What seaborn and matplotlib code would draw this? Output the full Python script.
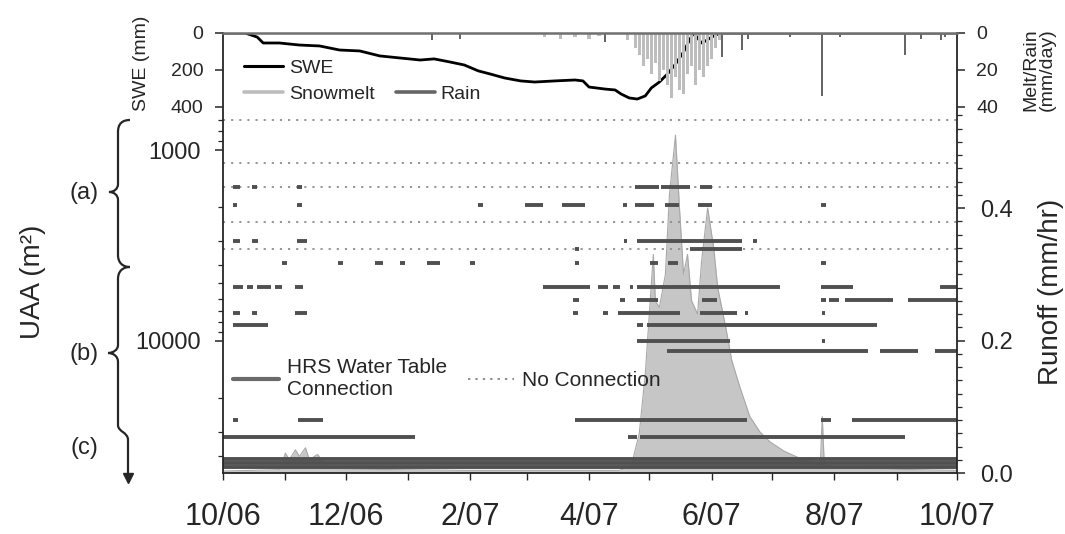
import datetime
import numpy as np
import matplotlib
matplotlib.use("Agg")
import matplotlib.pyplot as plt
import matplotlib.dates as mdates
from matplotlib.ticker import FixedLocator, FuncFormatter, NullFormatter
from matplotlib.path import Path
from matplotlib.patches import PathPatch
from matplotlib.lines import Line2D
import seaborn as sns

sns.set_theme(style="ticks")
plt.rcParams["font.family"] = ["Liberation Sans", "DejaVu Sans"]

# ---------------- data (days counted from 1 Oct 2006) ----------------
swe_day = [0, 11, 14, 17, 20, 28, 38, 48, 58, 68, 78, 88, 98, 105, 113, 120, 127,
           133, 140, 148, 155, 165, 175, 179, 182, 190, 195, 198, 202, 206, 210,
           213, 217, 221, 225, 229, 232, 234, 236, 238, 240, 243, 245, 247, 365]
swe_mm = [0, 0, 11, 22, 54, 54, 65, 70, 92, 97, 124, 135, 146, 140, 157, 173, 205,
          222, 243, 259, 265, 259, 254, 259, 292, 303, 308, 330, 351, 357, 340,
          297, 265, 222, 168, 103, 38, 0, 27, 54, 43, 22, 11, 0, 0]

melt_day = [160, 168, 175, 182, 187, 201, 205, 207, 209, 211, 213, 215, 217, 219,
            221, 223, 225, 227, 229, 231, 233, 235, 237, 239, 241, 243, 245, 247]
melt_mm = [2, 3, 2, 3, 1.5, 4, 8, 12, 18, 14, 22, 16, 26, 20,
           28, 35, 24, 31, 33, 22, 18, 28, 20, 24, 18, 14, 8, 4]

rain_day = [104, 118, 190, 248, 258, 261, 282, 298, 307, 339, 347, 357, 359]
rain_mm = [4, 3, 5, 13, 9, 3, 2, 34, 2, 12, 3, 4, 2]

runoff_day = [0, 28, 30, 31, 33, 36, 38, 41, 43, 47, 51, 58, 120, 197, 203, 207,
              210, 212, 214, 215, 217, 220, 222, 225, 227, 229, 231, 233, 236, 238,
              241, 244, 246, 250, 253, 257, 262, 267, 272, 279, 287, 294, 297, 298,
              299, 307, 327, 365]
runoff_mmhr = [0.003, 0.005, 0.02, 0.03, 0.02, 0.035, 0.025, 0.038, 0.02, 0.028,
               0.012, 0.006, 0.004, 0.004, 0.01, 0.06, 0.15, 0.24, 0.33, 0.26, 0.25,
               0.30, 0.42, 0.51, 0.40, 0.30, 0.33, 0.26, 0.24, 0.32, 0.40, 0.34,
               0.28, 0.22, 0.17, 0.13, 0.085, 0.062, 0.047, 0.033, 0.022, 0.015,
               0.012, 0.085, 0.012, 0.009, 0.006, 0.004]

# wells: upslope accumulated area (m2), logged with no connection, connection periods
well_uaa = [700, 1170, 1560, 1940, 2380, 3000, 3300, 3900, 5200, 6100, 7130,
            8240, 10000, 11280, 25900, 31800, 41500, 43600, 45700]
well_logged = [True, True, True, False, True, False, True, False, False, False,
               False, False, False, False, False, False, False, False, False]
well_periods = [
    [],
    [],
    [(5, 8.5), (14.4, 16.9), (36.8, 39.3), (205, 217), (218, 232), (237, 243)],
    [(5, 7), (36.8, 39.3), (127, 129.5), (150, 159), (168.5, 180), (199, 201),
     (205, 214.5), (220, 227), (236, 243), (297.3, 299.8)],
    [],
    [(5, 8.5), (14.4, 17.4), (36.8, 41.8), (199.4, 200.9), (206, 258), (263.6, 265.5)],
    [(175, 177), (232, 258)],
    [(29.3, 31.8), (57.2, 59.7), (75.6, 79.6), (88, 90.5), (101.4, 107.9),
     (122.8, 125.3), (174.9, 176.9), (212.3, 216.3), (221.3, 226.3), (297.3, 299.8)],
    [(5, 10), (12, 15), (17, 24), (26, 29.5), (36, 40), (159.1, 182.5),
     (186.5, 191.5), (194, 197.4), (202.4, 203.9), (205.9, 277), (297.3, 313.3),
     (356.5, 365)],
    [(174, 177), (197.4, 199.9), (205.9, 216.3), (238.2, 245.6), (297.3, 299.8),
     (301.3, 306.3), (309.3, 333.2), (340.6, 365)],
    [(5, 8.5), (14.4, 16.9), (35.8, 41.8), (174, 176.5), (189, 191.5),
     (196.4, 227.3), (237.2, 255.6), (259.6, 261.1), (297.8, 299.3)],
    [(5, 22.4), (205.9, 208.9), (210.8, 325.2)],
    [(205.9, 252.1), (297.8, 299.3)],
    [(220.8, 320.7), (326.7, 345.6), (354.1, 365)],
    [(5, 7.5), (37.3, 49.7), (175, 260.6), (297.3, 302.3), (312.8, 365)],
    [(0, 95.5), (201.4, 205.9), (207.4, 339.1)],
    [(0, 365)],
    [(0, 365)],
    [(0, 365)],
]

uaa_major = [1000, 10000]
swe_ticks = [0, 200, 400]
melt_ticks = [0, 20, 40]
runoff_ticks = [0.0, 0.2, 0.4]

# ---------------- styling ----------------
BASE = mdates.date2num(datetime.datetime(2006, 10, 1))
END = mdates.date2num(datetime.datetime(2007, 10, 1))


def wy(days):
    return BASE + np.asarray(days, dtype=float)


W, H = 1065, 534
L, R, T, B, SB = 223, 957, 33, 473, 107
INK = "#262626"
CONN = "#505050"
NOCON = "#8e8e8e"
MELT = "#bdbdbd"
RAIN = "#666666"
RUNOFF = "#c6c6c6"

fig = plt.figure(figsize=(W / 100, H / 100), dpi=100)

ax_main = fig.add_axes([L / W, 1 - B / H, (R - L) / W, (B - T) / H])
ax_run = ax_main.twinx()
ax_main.set_zorder(ax_run.get_zorder() + 1)
ax_main.patch.set_visible(False)

# runoff hydrograph
rx = wy(runoff_day)
ax_run.fill_between(rx, 0, runoff_mmhr, color=RUNOFF, lw=0)
sns.lineplot(x=rx, y=runoff_mmhr, ax=ax_run, color="#a8a8a8", lw=0.8)
ax_run.set_ylim(0, 0.6642)
ax_run.yaxis.set_major_locator(FixedLocator(runoff_ticks))
ax_run.yaxis.set_major_formatter(FuncFormatter(lambda v, p: f"{v:.1f}"))
minor_r = [v for v in np.round(np.arange(0.02, 0.55, 0.02), 2) if v not in (0.2, 0.4)]
ax_run.yaxis.set_minor_locator(FixedLocator(minor_r))
ax_run.yaxis.set_minor_formatter(NullFormatter())
ax_run.tick_params(axis="y", which="major", length=6, width=1.1, colors=INK,
                   labelsize=17, pad=11, direction="out")
ax_run.tick_params(axis="y", which="minor", length=3.5, width=0.9, colors=INK,
                   direction="out")
ax_run.set_ylabel("")
for s in ax_run.spines.values():
    s.set_visible(False)

# water-table connection records
for uaa, logged, periods in zip(well_uaa, well_logged, well_periods):
    if logged:
        ax_main.hlines(uaa, BASE, END, colors=NOCON, lw=1.3,
                       linestyles=[(0, (1.2, 3.3))])
    if periods:
        starts = wy([p[0] for p in periods])
        ends = wy([p[1] for p in periods])
        ax_main.hlines([uaa] * len(periods), starts, ends, colors=CONN, lw=2.8)

ax_main.set_yscale("log")
ax_main.set_ylim(49110, 244)
ax_main.set_xlim(BASE, END)
ax_main.yaxis.set_major_locator(FixedLocator(uaa_major))
ax_main.yaxis.set_major_formatter(FuncFormatter(lambda v, p: f"{v:.0f}"))
ax_main.yaxis.set_minor_locator(FixedLocator(
    [700, 800, 900, 2000, 3000, 4000, 5000, 6000, 7000, 8000, 9000,
     20000, 30000, 40000]))
ax_main.yaxis.set_minor_formatter(NullFormatter())
ax_main.tick_params(axis="y", which="major", length=6, width=1.1, colors=INK,
                    labelsize=17, pad=10, direction="out")
ax_main.tick_params(axis="y", which="minor", length=3.5, width=0.9, colors=INK,
                    direction="out")
ax_main.xaxis.set_major_locator(mdates.MonthLocator(bymonth=[2, 4, 6, 8, 10, 12]))
ax_main.xaxis.set_minor_locator(mdates.MonthLocator())
ax_main.xaxis.set_major_formatter(FuncFormatter(
    lambda v, p: f"{mdates.num2date(v).month}/{mdates.num2date(v):%y}"))
ax_main.tick_params(axis="x", which="both", length=5, width=1.0, colors=INK,
                    labelsize=22, pad=16, direction="out")
for s in ax_main.spines.values():
    s.set_visible(True)
    s.set_color(INK)
    s.set_linewidth(1.3)
ax_main.spines["top"].set_color("#707070")
ax_main.spines["top"].set_linewidth(1.8)

# top panel: snowpack and water input
ax_top = fig.add_axes([L / W, 1 - SB / H, (R - L) / W, (SB - T) / H])
ax_top.patch.set_visible(False)
ax_melt = ax_top.twinx()
ax_melt.patch.set_visible(False)
ax_melt.bar(wy(melt_day), melt_mm, width=1.6, color=MELT, lw=0)
ax_melt.bar(wy(rain_day), rain_mm, width=1.0, color=RAIN, lw=0)
ax_melt.set_ylim(40, 0)
sns.lineplot(x=wy(swe_day), y=swe_mm, ax=ax_top, color="black", lw=2.0)
ax_top.set_ylim(400, 0)
for a in (ax_top, ax_melt):
    a.set_xlim(BASE, END)
    for s in a.spines.values():
        s.set_visible(False)
    a.tick_params(axis="x", which="both", bottom=False, labelbottom=False)
    a.set_xlabel("")
    a.set_ylabel("")
ax_top.yaxis.set_major_locator(FixedLocator(swe_ticks))
ax_melt.yaxis.set_major_locator(FixedLocator(melt_ticks))
ax_top.tick_params(axis="y", length=6, width=1.1, colors=INK, labelsize=14, pad=8,
                   direction="out")
ax_melt.tick_params(axis="y", length=6, width=1.1, colors=INK, labelsize=14, pad=8,
                    direction="out")

# legends
top_handles = [Line2D([], [], color="black", lw=2.2),
               Line2D([], [], color=MELT, lw=2.6),
               Line2D([], [], linestyle="none"),
               Line2D([], [], color=RAIN, lw=2.6)]
ax_melt.legend(top_handles, ["SWE", "Snowmelt", "", "Rain"], ncol=2,
               loc="upper left", bbox_to_anchor=(244 / W, 1 - 59 / H),
               bbox_transform=fig.transFigure, frameon=False, fontsize=14,
               borderpad=0, borderaxespad=0, handlelength=2.0, handletextpad=0.3,
               labelspacing=0.45, columnspacing=1.1)

main_handles = [Line2D([], [], color="#6a6a6a", lw=3),
                Line2D([], [], color=NOCON, lw=1.4, linestyle=(0, (1.2, 2.6)))]
ax_main.legend(main_handles, ["HRS Water Table\nConnection", "No Connection"],
               ncol=2, loc="upper left", bbox_to_anchor=(233 / W, 1 - 358 / H),
               bbox_transform=fig.transFigure, frameon=False, fontsize=15,
               borderpad=0, borderaxespad=0, handlelength=2.2, handletextpad=0.4,
               columnspacing=1.0)

# axis titles
fig.text(142 / W, 1 - 63 / H, "SWE (mm)", rotation=90, ha="center", va="center",
         fontsize=14, color=INK)
fig.text(1039 / W, 1 - 70 / H, "Melt/Rain\n(mm/day)", rotation=90, ha="center",
         va="center", fontsize=14, color=INK, linespacing=1.0)
fig.text(33 / W, 1 - 282 / H, "UAA (m²)", rotation=90, ha="center", va="center",
         fontsize=20, color=INK)
fig.text(1051 / W, 1 - 292 / H, "Runoff (mm/hr)", rotation=90, ha="center",
         va="center", fontsize=20, color=INK)


# landscape-class braces on the left
def fpt(x, y):
    return (x / W, 1 - y / H)


M, C, LN = Path.MOVETO, Path.CURVE4, Path.LINETO
brace_a = [(130, 120), (122, 120), (118, 124), (118, 132), (118, 184),
           (118, 189), (114, 192), (109, 192), (114, 192), (118, 195), (118, 200),
           (118, 255), (118, 263), (123, 267), (130, 267)]
codes_a = [M, C, C, C, LN, C, C, C, C, C, C, LN, C, C, C]
brace_b = [(130, 267), (123, 267), (118, 271), (118, 279), (118, 345),
           (118, 350), (113, 353), (108, 353), (113, 353), (118, 356), (118, 362),
           (118, 425), (118, 432), (128, 432), (128, 440), (128, 476)]
codes_b = [M, C, C, C, LN, C, C, C, C, C, C, LN, C, C, C, LN]
for verts, codes in ((brace_a, codes_a), (brace_b, codes_b)):
    path = Path([fpt(*v) for v in verts], codes)
    fig.add_artist(PathPatch(path, transform=fig.transFigure, fill=False,
                             lw=1.6, edgecolor=INK))
ax_x, ax_y = fpt(128, 478)
fig.add_artist(Line2D([ax_x], [ax_y], transform=fig.transFigure, marker="v",
                      markersize=7, color=INK, linestyle="none"))
for lab, y in (("(a)", 193), ("(b)", 354), ("(c)", 448)):
    fig.text(84 / W, 1 - y / H, lab, ha="center", va="center", fontsize=17, color=INK)

fig.savefig("out.png", dpi=100)
